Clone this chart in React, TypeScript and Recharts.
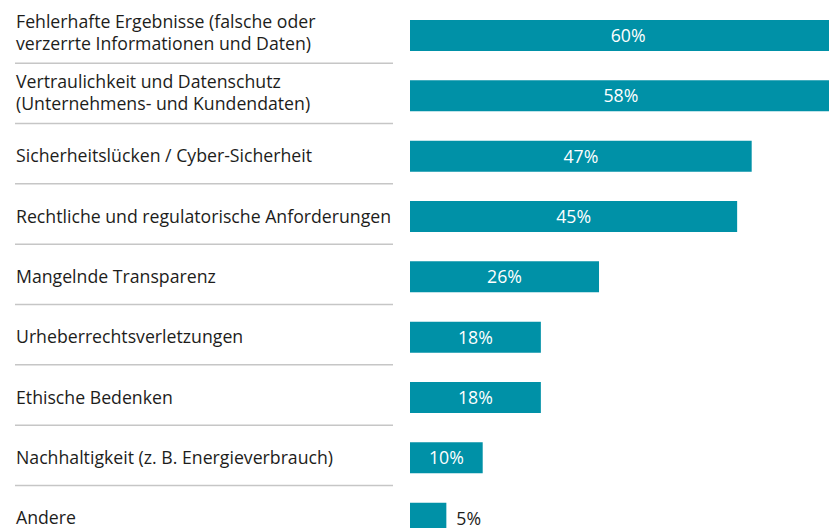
import { Bar, BarChart, LabelList, XAxis, YAxis } from "recharts";

// Kategorien (Zeilenumbruch = zweite Zeile)
const categories = [
  "Fehlerhafte Ergebnisse (falsche oder\nverzerrte Informationen und Daten)",
  "Vertraulichkeit und Datenschutz\n(Unternehmens- und Kundendaten)",
  "Sicherheitslücken / Cyber-Sicherheit",
  "Rechtliche und regulatorische Anforderungen",
  "Mangelnde Transparenz",
  "Urheberrechtsverletzungen",
  "Ethische Bedenken",
  "Nachhaltigkeit (z. B. Energieverbrauch)",
  "Andere",
];
const shares = [60, 58, 47, 45, 26, 18, 18, 10, 5];

const data = categories.map((name, i) => ({ name, value: shares[i] }));

const FONT = "'Open Sans', sans-serif";
const TEXT = "#1d1d1b";
const TEAL = "#0091a7";
const FS = 17.7;

function CategoryTick(props: any) {
  const { y, payload } = props;
  const lines = String(payload.value).split("\n");
  const first = lines.length > 1 ? -7.5 : 6.5;
  return (
    <g>
      <text x={16} y={y + first} fill={TEXT} fontSize={FS} fontFamily={FONT} textAnchor="start">
        {lines.map((l, i) => (
          <tspan key={i} x={16} dy={i === 0 ? 0 : 22}>
            {l}
          </tspan>
        ))}
      </text>
      <line x1={15} x2={393} y1={y + 28} y2={y + 28} stroke="#c6c6c6" strokeWidth={1.5} />
    </g>
  );
}

function ValueLabel(props: any) {
  const { x, y, width, height, value } = props;
  const cy = y + height / 2;
  if (width < 45) {
    return (
      <text x={x + width + 10} y={cy + 6.5} fill={TEXT} fontSize={FS} fontFamily={FONT}>
        {value}%
      </text>
    );
  }
  return (
    <text x={x + width / 2} y={cy + 6.5} fill="#ffffff" fontSize={FS} fontFamily={FONT} textAnchor="middle">
      {value}%
    </text>
  );
}

export default function App() {
  return (
    <div style={{ position: "absolute", left: 0, top: 0, width: 829, height: 528, overflow: "hidden", background: "#fff" }}>
      <BarChart
        width={1137}
        height={548}
        data={data}
        layout="vertical"
        margin={{ top: 5, right: 0, left: 0, bottom: 0 }}
      >
        <XAxis type="number" domain={[0, 100]} hide />
        <YAxis
          type="category"
          dataKey="name"
          width={410}
          axisLine={false}
          tickLine={false}
          tick={<CategoryTick />}
          interval={0}
        />
        <Bar dataKey="value" fill={TEAL} barSize={31} isAnimationActive={false}>
          <LabelList dataKey="value" content={<ValueLabel />} />
        </Bar>
      </BarChart>
    </div>
  );
}
